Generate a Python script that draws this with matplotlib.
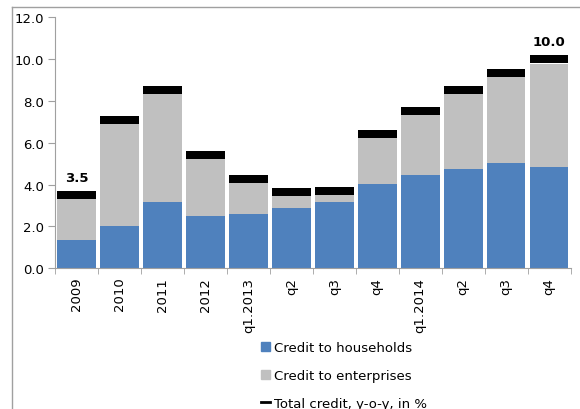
import matplotlib
matplotlib.use("Agg")
import matplotlib.pyplot as plt
from matplotlib.patches import Patch
from matplotlib.lines import Line2D
import numpy as np

periods = ["2009", "2010", "2011", "2012", "q1.2013", "q2", "q3", "q4",
           "q1.2014", "q2", "q3", "q4"]
households = [1.37, 2.02, 3.18, 2.50, 2.60, 2.88, 3.17, 4.01, 4.47, 4.76, 5.05, 4.86]
enterprises = [1.94, 4.88, 5.15, 2.72, 1.48, 0.58, 0.33, 2.22, 2.86, 3.57, 4.09, 4.91]
total = [3.5, 7.09, 8.52, 5.42, 4.27, 3.65, 3.70, 6.42, 7.52, 8.52, 9.34, 10.0]

BLUE = "#4F81BD"
GRAY = "#C0C0C0"
SPINE = "#A0A0A0"
plt.rcParams["font.family"] = ["DejaVu Sans"]
plt.rcParams["font.size"] = 9.5

fig = plt.figure(figsize=(5.8, 4.1), dpi=100)
ax = fig.add_axes([0.0948, 0.343, 0.889, 0.613])

x = np.arange(len(periods))
w = 0.9
ax.bar(x, households, width=w, color=BLUE)
ax.bar(x, enterprises, width=w, bottom=households, color=GRAY)
# total credit shown as a thick black dash centred on the value
dash_h = 0.38
ax.bar(x, dash_h, width=w, bottom=np.array(total) - dash_h / 2, color="black")

for i in (0, len(total) - 1):
    ax.text(x[i], total[i] + 0.85, f"{total[i]:.1f}", ha="center", va="center",
            fontweight="bold", fontsize=9.5)

ax.set_xlim(-0.5, len(periods) - 0.5)
ax.set_ylim(0, 12)
ax.set_yticks(np.arange(0, 12.1, 2))
ax.set_yticklabels([f"{v:.1f}" for v in np.arange(0, 12.1, 2)])
ax.set_xticks(x)
ax.set_xticklabels(periods, rotation=90)
ax.tick_params(axis="x", length=0, pad=6)
ax.set_xticks(np.arange(-0.5, len(periods), 1), minor=True)
ax.tick_params(axis="x", which="minor", length=4, color=SPINE, direction="out")
ax.tick_params(axis="y", length=5, color=SPINE, pad=3)
for s in ("top", "right"):
    ax.spines[s].set_visible(False)
for s in ("left", "bottom"):
    ax.spines[s].set_color(SPINE)

# outer chart frame
fig.add_artist(Line2D([0.020, 0.020], [0, 0.981], transform=fig.transFigure,
                      color=SPINE, lw=1))
fig.add_artist(Line2D([0.020, 1.0], [0.981, 0.981], transform=fig.transFigure,
                      color=SPINE, lw=1))

handles = [Patch(color=BLUE), Patch(color=GRAY),
           Line2D([], [], color="black", lw=2)]
labels = ["Credit to households", "Credit to enterprises", "Total credit, y-o-y, in %"]
fig.legend(handles, labels, loc="upper left", bbox_to_anchor=(0.438, 0.182),
           frameon=False, labelspacing=1.12, handlelength=0.7, handleheight=0.7,
           handletextpad=0.3, borderpad=0)

fig.savefig("out.png", dpi=100)
